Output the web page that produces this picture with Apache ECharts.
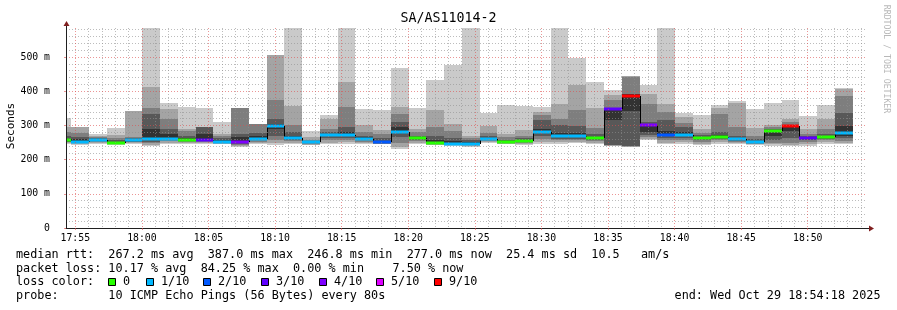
<!DOCTYPE html>
<html>
<head>
<meta charset="utf-8">
<script src="https://cdn.jsdelivr.net/npm/echarts@6/dist/echarts.min.js"></script>
<style>
  html, body { margin: 0; padding: 0; background: #fff; }
  #chart { width: 897px; height: 310px; }
</style>
</head>
<body>
<div id="chart"></div>
<script>
// x = seconds after 17:54:18 (graph start), one hour shown
const stepEnd = [24, 104, 184, 264, 344, 424, 504, 584, 664, 744, 824, 904, 984, 1064, 1144,
  1224, 1304, 1384, 1464, 1544, 1624, 1704, 1784, 1864, 1944, 2024, 2104, 2184, 2264, 2344,
  2424, 2504, 2584, 2664, 2744, 2824, 2904, 2984, 3064, 3144, 3224, 3304, 3384, 3464, 3544];

// median rtt per step (ms)
const median = [256, 253, 258, 250, 256, 259, 261, 258, 258, 253, 251, 261, 298, 263, 251,
  271, 273, 261, 251, 282, 262, 249.5, 247, 246.8, 259.5, 251.5, 255.5, 281, 268, 268,
  262, 349, 387, 300, 272, 271, 262, 267, 259, 252, 285, 298, 262, 265, 277];

// lost pings out of 10 per step
const lossPings = [0, 1, 1, 0, 1, 1, 1, 0, 3, 1, 4, 1, 1, 1, 1, 1, 1, 1, 2, 1, 0, 0, 1, 1, 1,
  0, 0, 1, 1, 1, 0, 3, 9, 4, 2, 1, 0, 0, 1, 1, 0, 9, 3, 0, 1];

// sorted ping rtts per step (ms), drawn as smoke
const pings = [
  [246, 249, 251, 253, 255, 260, 268, 280, 294, 321],
  [244, 246, 248, 250, 252, 261, 266, 279, 294, 296],
  [246, 249, 252, 255, 257, 260, 262, 266, 270, 275],
  [243, 245, 246, 247, 249, 252, 256, 262, 271, 292],
  [245, 248, 251, 253, 255, 258, 262, 266, 341, 342],
  [240, 244, 249, 253, 257, 290, 333, 351, 412, 600],
  [247, 250, 254, 257, 259, 275, 290, 319, 347, 365],
  [246, 249, 252, 254, 256, 264, 270, 283, 289, 354],
  [246, 249, 252, 254, 256, 275, 294, 295, 296, 351],
  [245, 247, 249, 250, 252, 258, 262, 268, 275, 310],
  [238, 241, 244, 247, 249, 265, 276, 350, 351, 352],
  [246, 249, 253, 256, 259, 268, 278, 303, 304, 305],
  [243, 250, 258, 270, 290, 305, 320, 375, 506, 507],
  [247, 250, 254, 258, 261, 270, 281, 302, 357, 600],
  [242, 244, 246, 248, 250, 253, 255, 258, 265, 284],
  [246, 250, 256, 262, 268, 276, 281, 290, 320, 331],
  [247, 251, 257, 264, 270, 281, 295, 354, 427, 600],
  [246, 249, 253, 256, 259, 265, 270, 281, 302, 347],
  [245, 246, 247, 248, 250, 255, 262, 275, 288, 344],
  [232, 238, 250, 265, 278, 295, 310, 333, 354, 468],
  [247, 250, 254, 257, 260, 266, 270, 280, 289, 351],
  [243, 244, 245, 247, 248, 256, 270, 295, 346, 433],
  [241, 242, 243, 244, 246, 254, 262, 285, 305, 477],
  [238, 240, 242, 244, 246, 251, 256, 262, 269, 600],
  [250, 252, 254, 256, 258, 263, 268, 278, 299, 337],
  [246, 247, 248, 249, 250, 254, 258, 265, 274, 361],
  [244, 247, 250, 252, 254, 258, 262, 270, 286, 357],
  [246, 252, 260, 270, 278, 290, 316, 330, 340, 353],
  [247, 251, 256, 261, 265, 278, 300, 319, 363, 600],
  [248, 252, 256, 261, 265, 278, 298, 345, 418, 498],
  [247, 250, 254, 257, 260, 266, 275, 293, 351, 427],
  [240, 241, 242, 243, 316, 350, 352, 375, 390, 403],
  [237, 238, 239, 240, 341, 391, 392, 443, 444, 445],
  [256, 260, 265, 272, 282, 302, 310, 364, 393, 419],
  [246, 250, 256, 262, 268, 285, 316, 340, 364, 600],
  [247, 251, 256, 262, 268, 280, 294, 308, 324, 335],
  [242, 246, 251, 256, 260, 266, 272, 279, 290, 331],
  [247, 251, 256, 261, 265, 272, 282, 333, 351, 360],
  [246, 249, 252, 255, 257, 263, 270, 294, 367, 371],
  [243, 245, 247, 249, 251, 255, 260, 270, 292, 348],
  [240, 245, 250, 258, 270, 287, 290, 295, 301, 365],
  [240, 244, 250, 262, 285, 300, 302, 310, 318, 375],
  [240, 245, 251, 256, 260, 264, 268, 275, 291, 327],
  [247, 251, 256, 260, 263, 268, 275, 290, 320, 360],
  [246, 250, 255, 262, 270, 298, 337, 386, 408, 410]
];

const tickSecs = [42, 342, 642, 942, 1242, 1542, 1842, 2142, 2442, 2742, 3042, 3342];
const tickLabels = ['17:55', '18:00', '18:05', '18:10', '18:15', '18:20', '18:25', '18:30',
  '18:35', '18:40', '18:45', '18:50'];
const yTicks = [0, 100, 200, 300, 400, 500];

const lossLevels = [0, 1, 2, 3, 4, 5, 9];
const lossLabels = ['0', '1/10', '2/10', '3/10', '4/10', '5/10', '9/10'];
const lossColors = ['#26ff00', '#00b8ff', '#0059ff', '#5e00ff', '#7e00ff', '#dd00ff', '#ff0000'];

// outer band lightest, inner darkest (smokeping shading)
const smokeShades = ['#cacaca', '#a4a4a4', '#7e7e7e', '#585858', '#323232'];

const mono = "'DejaVu Sans Mono', monospace";
const gridCol = 'rgba(143,143,143,0.6)';
const mgridCol = 'rgba(222,79,79,0.6)';

// minor grid every minute / every 20 ms
const minorSecs = [];
for (let s = 42; s < 3600; s += 60) if (tickSecs.indexOf(s) < 0) minorSecs.push(s);
const yMinor = [];
for (let v = 20; v < 585; v += 20) if (v % 100) yMinor.push(v);

function lossColor(n) {
  let c = lossColors[0];
  lossLevels.forEach((l, i) => { if (n >= l) c = lossColors[i]; });
  return c;
}

const chart = echarts.init(document.getElementById('chart'));

function renderStep(params, api) {
  const i = params.dataIndex;
  const cs = params.coordSys;
  const t0 = i === 0 ? 0 : stepEnd[i - 1];
  const t1 = stepEnd[i];
  const ps = pings[i];
  const n = ps.length;
  const children = [];
  for (let b = 0; b < n / 2; b++) {
    const lo = api.coord([t0, ps[b]]);
    const hi = api.coord([t1, ps[n - 1 - b]]);
    const x0 = Math.round(lo[0]), x1 = Math.round(hi[0]);
    const top = Math.round(Math.max(hi[1], cs.y));
    const bot = Math.round(lo[1]);
    children.push({
      type: 'rect',
      shape: { x: x0, y: top, width: x1 - x0, height: bot - top },
      style: { fill: smokeShades[b] }
    });
  }
  const m = api.coord([t0, median[i]]);
  const e = api.coord([t1, median[i]]);
  const mx0 = Math.round(m[0]), mx1 = Math.round(e[0]);
  const my = Math.round(m[1]);
  if (i > 0) {
    const py = Math.round(api.coord([t0, median[i - 1]])[1]);
    children.push({
      type: 'line',
      shape: { x1: mx0 + 0.5, y1: py, x2: mx0 + 0.5, y2: my },
      style: { stroke: '#000', lineWidth: 1 }
    });
  }
  children.push({
    type: 'rect',
    shape: { x: mx0, y: my - 1.5, width: mx1 - mx0, height: 3 },
    style: { fill: lossColor(lossPings[i]) }
  });
  return { type: 'group', children: children };
}

const legendY = [255, 268.5, 282, 296];
const swatchX = [108, 146, 203, 261, 319, 376, 434];
const graphics = [
  { type: 'text', x: 448.5, y: 19, style: { text: 'SA/AS11014-2', font: '13.3px ' + mono, fill: '#000', textAlign: 'center', textVerticalAlign: 'middle' } },
  { type: 'text', x: 11, y: 126, rotation: Math.PI / 2, style: { text: 'Seconds', font: '11px ' + mono, fill: '#000', textAlign: 'center', textVerticalAlign: 'middle' } },
  { type: 'text', x: 886, y: 59, rotation: -Math.PI / 2, style: { text: 'RRDTOOL / TOBI OETIKER', font: '8.2px ' + mono, fill: '#b8b8b8', textAlign: 'center', textVerticalAlign: 'middle' } },
  { type: 'text', x: 16, y: legendY[0], style: { text: 'median rtt:  267.2 ms avg  387.0 ms max  246.8 ms min  277.0 ms now  25.4 ms sd  10.5   am/s', font: '11.8px ' + mono, fill: '#000', textVerticalAlign: 'middle' } },
  { type: 'text', x: 16, y: legendY[1], style: { text: 'packet loss: 10.17 % avg  84.25 % max  0.00 % min    7.50 % now', font: '11.8px ' + mono, fill: '#000', textVerticalAlign: 'middle' } },
  { type: 'text', x: 16, y: legendY[2], style: { text: 'loss color:', font: '11.8px ' + mono, fill: '#000', textVerticalAlign: 'middle' } },
  { type: 'text', x: 16, y: legendY[3], style: { text: 'probe:       10 ICMP Echo Pings (56 Bytes) every 80s', font: '11.8px ' + mono, fill: '#000', textVerticalAlign: 'middle' } },
  { type: 'text', x: 880.5, y: legendY[3], style: { text: 'end: Wed Oct 29 18:54:18 2025', font: '11.8px ' + mono, fill: '#000', textAlign: 'right', textVerticalAlign: 'middle' } },
  // axis arrows
  { type: 'line', shape: { x1: 865, y1: 228.5, x2: 869, y2: 228.5 }, style: { stroke: '#1f1f1f', lineWidth: 1 } },
  { type: 'polygon', shape: { points: [[869, 225.5], [874, 228.5], [869, 231.5]] }, style: { fill: '#801f1f' } },
  { type: 'line', shape: { x1: 66.5, y1: 28, x2: 66.5, y2: 25 }, style: { stroke: '#1f1f1f', lineWidth: 1 } },
  { type: 'polygon', shape: { points: [[63.5, 26], [66.5, 21], [69.5, 26]] }, style: { fill: '#801f1f' } }
];
swatchX.forEach((x, i) => {
  graphics.push({ type: 'rect', shape: { x: x + 0.5, y: 278.5, width: 7, height: 7 }, style: { fill: lossColors[i], stroke: '#000', lineWidth: 1 } });
  graphics.push({ type: 'text', x: x + 15, y: legendY[2], style: { text: lossLabels[i], font: '11.8px ' + mono, fill: '#000', textVerticalAlign: 'middle' } });
});

const option = {
  backgroundColor: '#fff',
  animation: false,
  grid: { left: 66, top: 28, width: 799, height: 200, containLabel: false },
  xAxis: [
    {
      type: 'value', min: 0, max: 3600, z: 4,
      axisLine: { show: true, lineStyle: { color: '#1f1f1f', width: 1 } },
      axisTick: { show: true, customValues: tickSecs, length: 2, lineStyle: { color: mgridCol } },
      axisLabel: {
        customValues: tickSecs,
        formatter: v => tickLabels[tickSecs.indexOf(v)],
        color: '#000', fontFamily: mono, fontSize: 9.8, margin: 5
      },
      splitLine: { show: true, lineStyle: { color: mgridCol, type: [1, 2] } }
    },
    {
      type: 'value', min: 0, max: 3600, z: 3, position: 'bottom',
      axisLine: { show: false }, axisLabel: { show: false },
      axisTick: { show: false, customValues: minorSecs },
      splitLine: { show: true, lineStyle: { color: gridCol, type: [1, 2] } }
    }
  ],
  yAxis: [
    {
      type: 'value', min: 0, max: 585, z: 4,
      axisLine: { show: true, lineStyle: { color: '#1f1f1f', width: 1 } },
      axisTick: { show: true, customValues: yTicks, length: 2, lineStyle: { color: mgridCol } },
      axisLabel: {
        customValues: yTicks,
        formatter: v => v === 0 ? '0' : v + ' m',
        color: '#000', fontFamily: mono, fontSize: 9.8, margin: 16
      },
      splitLine: { show: true, lineStyle: { color: mgridCol, type: [1, 2] } }
    },
    {
      type: 'value', min: 0, max: 585, z: 3, position: 'left',
      axisLine: { show: false }, axisLabel: { show: false },
      axisTick: { show: false, customValues: yMinor },
      splitLine: { show: true, lineStyle: { color: gridCol, type: [1, 2] } }
    }
  ],
  series: [{
    type: 'custom',
    z: 1,
    xAxisIndex: 0,
    yAxisIndex: 0,
    renderItem: renderStep,
    encode: { x: 0, y: 1 },
    data: stepEnd.map((t, i) => [t, median[i]])
  }],
  graphic: graphics
};

chart.setOption(option);
</script>
</body>
</html>
